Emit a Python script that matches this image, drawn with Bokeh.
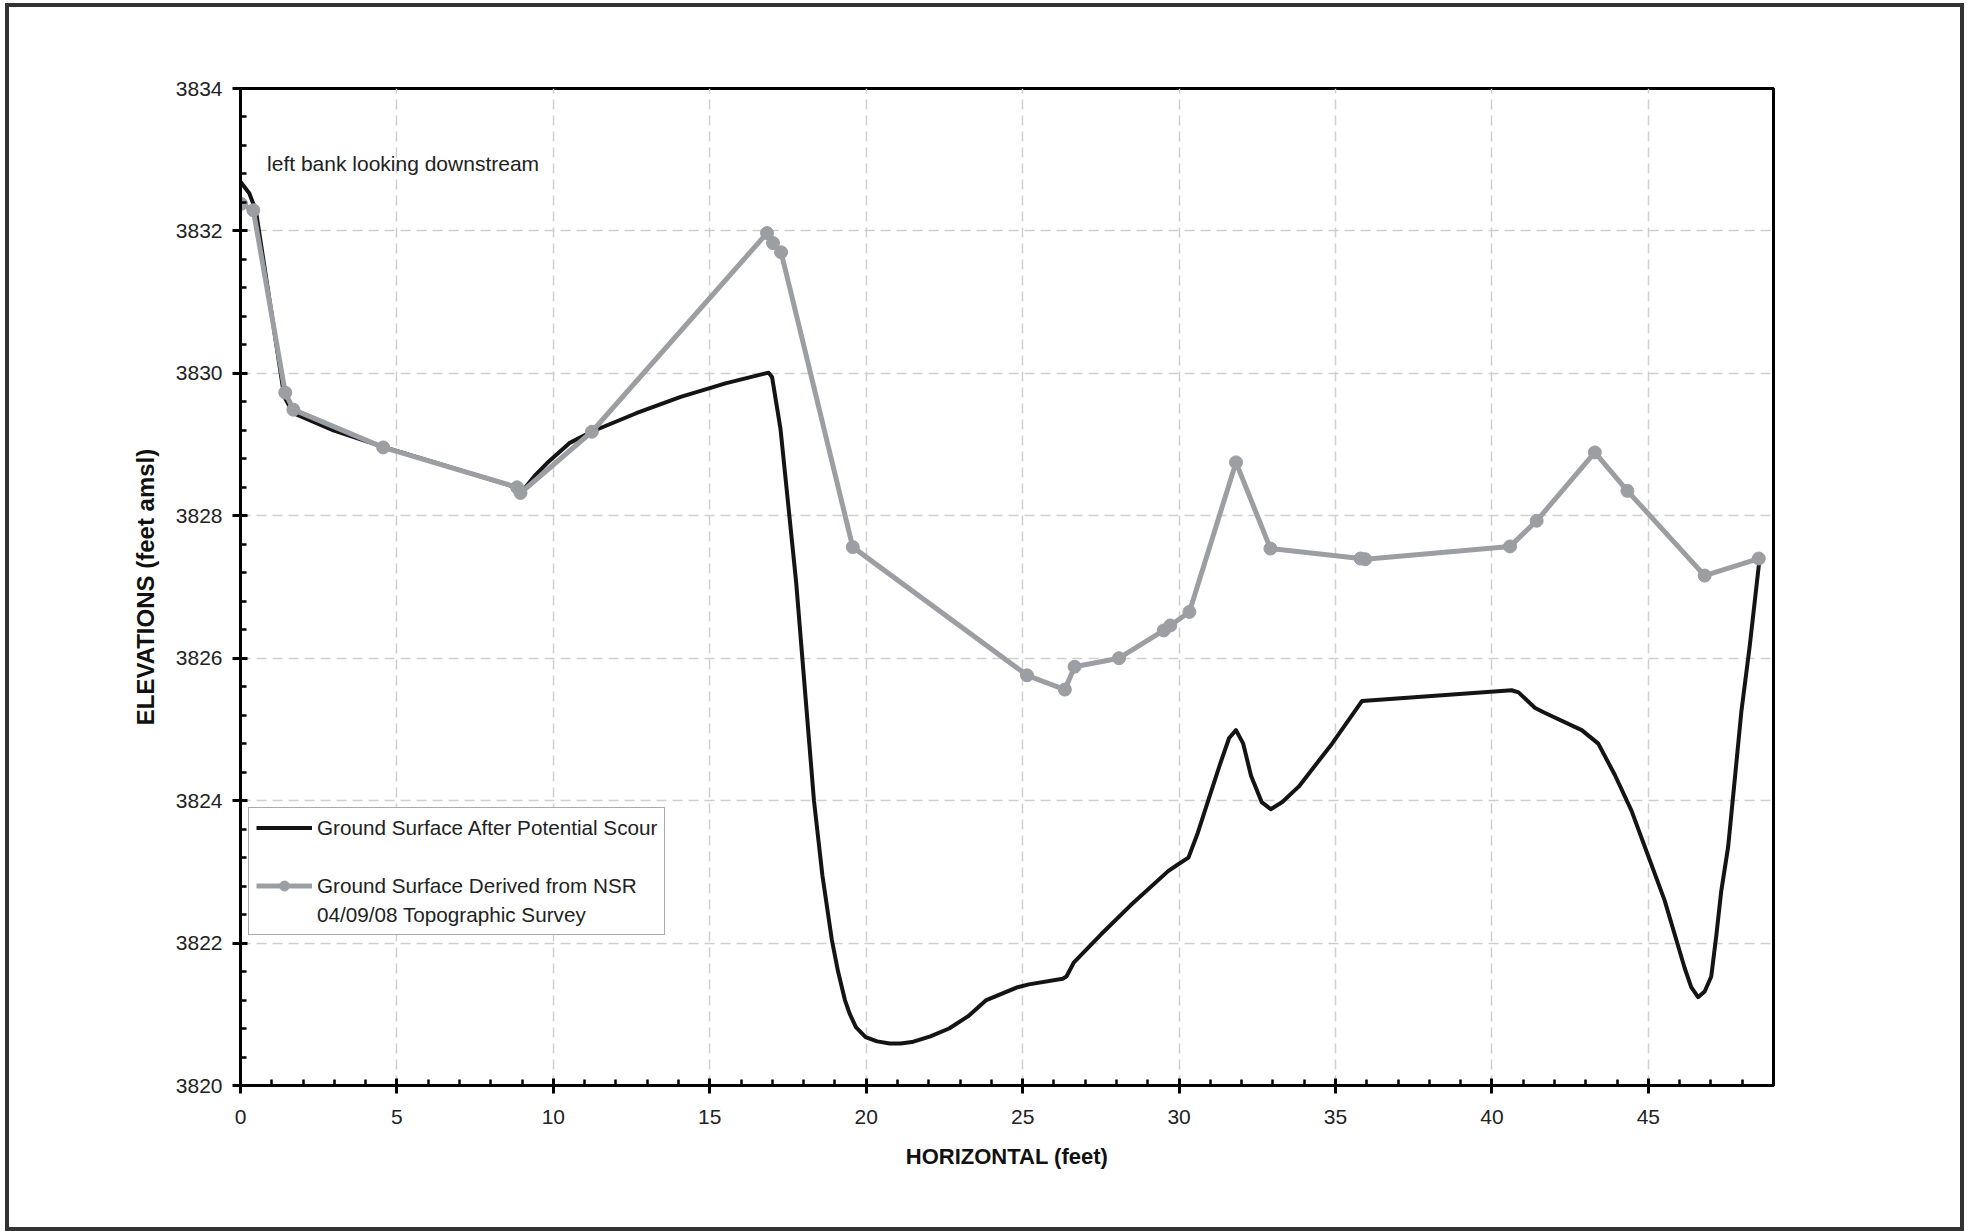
from bokeh.plotting import figure
from bokeh.models import SingleIntervalTicker, Legend, LegendItem, Label, Range1d
from bokeh.embed import file_html
from bokeh.resources import INLINE

# ---- data ----
scour_x = [0.0, 0.28, 0.49, 1.40, 1.69, 2.97, 4.54, 8.89, 9.03, 9.40, 9.80, 10.51, 11.22,
           12.65, 14.07, 15.50, 16.88, 16.99, 17.26, 17.76, 18.33, 18.6, 18.9, 19.1, 19.32,
           19.47, 19.67, 19.98, 20.35, 20.75, 21.1, 21.46, 22.05, 22.65, 23.25, 23.84, 24.84,
           25.2, 26.28, 26.4, 26.64, 27.5, 28.45, 29.65, 29.95, 30.3, 30.6, 30.93, 31.3,
           31.6, 31.82, 32.05, 32.3, 32.64, 32.93, 33.3, 33.83, 34.89, 35.85, 40.63, 40.85,
           41.38, 41.70, 42.87, 43.40, 43.93, 44.46, 44.99, 45.52, 46.16, 46.37, 46.59,
           46.80, 47.01, 47.17, 47.33, 47.55, 47.76, 47.97, 48.24, 48.55]
scour_y = [3832.69, 3832.53, 3832.29, 3829.67, 3829.44, 3829.20, 3828.97, 3828.39, 3828.36,
           3828.56, 3828.74, 3829.02, 3829.18, 3829.44, 3829.67, 3829.86, 3830.01, 3829.95,
           3829.22, 3827.07, 3824.0, 3822.95, 3822.05, 3821.6, 3821.20, 3821.01, 3820.82,
           3820.68, 3820.62, 3820.59, 3820.59, 3820.61, 3820.69, 3820.80, 3820.97, 3821.20,
           3821.38, 3821.42, 3821.50, 3821.53, 3821.73, 3822.12, 3822.53, 3823.01, 3823.10,
           3823.20, 3823.55, 3824.0, 3824.5, 3824.88, 3824.99, 3824.8, 3824.35, 3823.98,
           3823.88, 3823.98, 3824.20, 3824.80, 3825.40, 3825.55, 3825.52, 3825.30, 3825.23,
           3824.99, 3824.80, 3824.36, 3823.86, 3823.23, 3822.60, 3821.65, 3821.38, 3821.24,
           3821.32, 3821.53, 3822.10, 3822.73, 3823.35, 3824.29, 3825.24, 3826.17, 3827.38]

survey_x = [0.02, 0.41, 1.43, 1.69, 4.56, 8.84, 8.95, 11.23, 16.83, 17.02, 17.28, 19.57,
            25.14, 26.35, 26.66, 28.08, 29.51, 29.72, 30.33, 31.82, 32.92, 35.80, 35.95,
            40.58, 41.43, 43.29, 44.33, 46.80, 48.53]
survey_y = [3832.38, 3832.29, 3829.73, 3829.49, 3828.96, 3828.40, 3828.32, 3829.18, 3831.97,
            3831.83, 3831.70, 3827.56, 3825.76, 3825.56, 3825.88, 3826.00, 3826.39, 3826.46,
            3826.65, 3828.75, 3827.54, 3827.40, 3827.39, 3827.57, 3827.93, 3828.89, 3828.35,
            3827.16, 3827.40]

x_start, x_end = 0, 49
y_start, y_end = 3820, 3834

scour_label = "Ground Surface After Potential Scour"
survey_label_1 = "Ground Surface Derived from NSR"
survey_label_2 = "04/09/08 Topographic Survey"
note_text = "left bank looking downstream"
x_title = "HORIZONTAL (feet)"
y_title = "ELEVATIONS (feet amsl)"

FONT = "Liberation Sans"
BLACK = "#141414"
GRAY = "#9b9fa4"

p = figure(width=1959, height=1228, output_backend="svg", toolbar_location=None,
           x_range=Range1d(x_start, x_end), y_range=Range1d(y_start, y_end),
           min_border_left=231, min_border_right=195, min_border_top=81,
           min_border_bottom=150, background_fill_color="white",
           border_fill_color="white")
p.styles = {"border": "4px solid #333333", "margin": "3px -10px -10px 5px"}

p.outline_line_color = "black"
p.outline_line_width = 3

p.xaxis.ticker = SingleIntervalTicker(interval=5, num_minor_ticks=5)
p.yaxis.ticker = SingleIntervalTicker(interval=2, num_minor_ticks=5)

for ax in (p.xaxis[0], p.yaxis[0]):
    ax.axis_line_width = 3
    ax.axis_line_color = "black"
    ax.major_tick_line_width = 3
    ax.major_tick_line_color = "black"
    ax.minor_tick_line_width = 2.5
    ax.minor_tick_line_color = "black"
    ax.major_tick_in = 7
    ax.major_tick_out = 8
    ax.minor_tick_in = 6
    ax.minor_tick_out = 0
    ax.major_label_text_font = FONT
    ax.major_label_text_font_size = "21px"
    ax.major_label_text_color = "#222222"
    ax.axis_label_text_font = FONT
    ax.axis_label_text_font_style = "bold"
    ax.axis_label_text_color = "#111111"

p.xaxis.axis_label = x_title
p.xaxis.axis_label_text_font_size = "22px"
p.xaxis.major_label_standoff = 16
p.xaxis.axis_label_standoff = 17
p.yaxis.axis_label = y_title
p.yaxis.axis_label_text_font_size = "24px"
p.yaxis.major_label_standoff = 10
p.yaxis.axis_label_standoff = 14

for g in (p.xgrid[0], p.ygrid[0]):
    g.grid_line_color = "#cfcfcf"
    g.grid_line_width = 1.5
    g.grid_line_dash = "10 6"

scour = p.line(scour_x, scour_y, line_color=BLACK, line_width=4, line_join="round")
survey_line = p.line(survey_x, survey_y, line_color=GRAY, line_width=5, line_join="round")
survey_pts = p.scatter(survey_x, survey_y, marker="circle", size=13, fill_color=GRAY,
                       line_color=GRAY)
blank_a = p.line([], [], line_alpha=0)
blank_b = p.line([], [], line_alpha=0)

legend = Legend(items=[
    LegendItem(label=scour_label, renderers=[scour]),
    LegendItem(label=" ", renderers=[blank_a]),
    LegendItem(label=survey_label_1, renderers=[survey_line, survey_pts]),
    LegendItem(label=survey_label_2, renderers=[blank_b]),
], location=(8, 150), label_text_font=FONT, label_text_font_size="20.7px",
   label_text_color="#222222", glyph_width=56, glyph_height=25, label_height=25,
   spacing=4, padding=7, label_standoff=5, border_line_color="#555555",
   border_line_width=1.5, background_fill_color="white", background_fill_alpha=1.0,
   margin=0)
p.add_layout(legend, "center")

p.add_layout(Label(x=0.85, y=3832.94, text=note_text, text_font=FONT,
                   text_font_size="21px", text_color="#222222",
                   text_baseline="alphabetic"))

open("out.html", "w").write(file_html(p, INLINE))
